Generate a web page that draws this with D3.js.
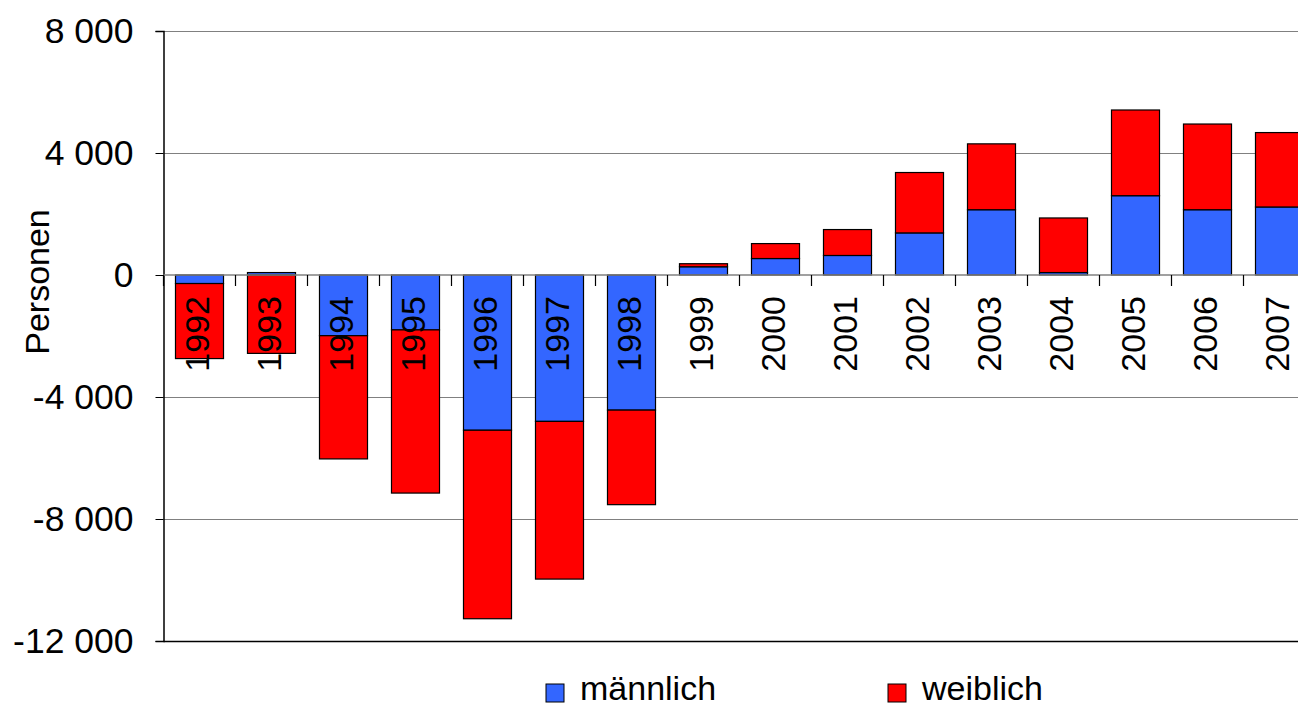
<!DOCTYPE html>
<html>
<head>
<meta charset="utf-8">
<script src="https://cdn.jsdelivr.net/npm/d3@7"></script>
<style>
  html, body { margin: 0; padding: 0; background: #fff; overflow: hidden; }
  svg { display: block; font-family: "Liberation Sans", Arial, sans-serif; }
</style>
</head>
<body>
<svg id="chart" width="1298" height="708"></svg>
<script>
const years = ["1992","1993","1994","1995","1996","1997","1998","1999","2000","2001","2002","2003","2004","2005","2006","2007"];
const maennlich = [-280, 80, -1990, -1800, -5090, -4800, -4430, 270, 540, 640, 1380, 2140, 80, 2600, 2140, 2230];
const weiblich  = [-2460, -2570, -4040, -5350, -6180, -5170, -3100, 100, 490, 850, 1980, 2160, 1790, 2810, 2810, 2440];
const yTicks = [8000, 4000, 0, -4000, -8000, -12000];
const seriesNames = ["männlich", "weiblich"];
const seriesColors = ["#3366FF", "#FF0000"];

(function () {
const svg = d3.select("#chart");
const plotLeft = 163.5, plotTop = 31, plotBottom = 641;
const step = 72;
const x = d3.scaleBand().domain(years).range([plotLeft, plotLeft + step * years.length]).paddingInner(0.333).paddingOuter(0.1665);
const y = d3.scaleLinear().domain([-12000, 8000]).range([plotBottom, plotTop]);

const table = years.map((yr, i) => ({ year: yr, "männlich": maennlich[i], "weiblich": weiblich[i] }));
const stacked = d3.stack().keys(seriesNames).offset(d3.stackOffsetDiverging)(table);

// gridlines
svg.append("g").selectAll("line").data(yTicks.filter(t => t !== 0)).join("line")
  .attr("x1", plotLeft).attr("x2", 1298)
  .attr("y1", d => Math.round(y(d)) + 0.5).attr("y2", d => Math.round(y(d)) + 0.5)
  .attr("stroke", d => d === -12000 ? "#000" : "#808080").attr("stroke-width", d => d === -12000 ? 1.5 : 1.2);

// y axis
const yAxis = d3.axisLeft(y).tickValues(yTicks).tickSize(8).tickPadding(22)
  .tickFormat(d => d3.format(",")(d).replace(/,/g, " ").replace("\u2212", "-"));
const gy = svg.append("g").attr("transform", `translate(${plotLeft},0)`).call(yAxis);
gy.select(".domain").attr("stroke", "#000").attr("stroke-width", 1.5);
gy.selectAll(".tick line").attr("stroke", "#000");
gy.selectAll(".tick text").attr("font-size", 35.5).attr("fill", "#000").attr("font-family", "Liberation Sans, Arial, sans-serif");

// bars
svg.append("g").selectAll("g").data(stacked).join("g")
  .attr("fill", (d, i) => seriesColors[i])
  .selectAll("rect").data(d => d).join("rect")
  .attr("x", d => x(d.data.year))
  .attr("width", x.bandwidth())
  .attr("y", d => y(Math.max(d[0], d[1])))
  .attr("height", d => Math.abs(y(d[0]) - y(d[1])))
  .attr("stroke", "#000").attr("stroke-width", 1.2);

// x axis (zero line + ticks between categories)
const y0 = y(0);
svg.append("line").attr("x1", plotLeft).attr("x2", 1298).attr("y1", y0).attr("y2", y0)
  .attr("stroke", "#808080").attr("stroke-width", 1.5);
const bounds = d3.range(years.length + 1).map(i => plotLeft + i * step);
svg.append("g").selectAll("line").data(bounds).join("line")
  .attr("x1", d => d).attr("x2", d => d).attr("y1", y0).attr("y2", y0 + 11)
  .attr("stroke", "#000").attr("stroke-width", 1.2);

// rotated year labels
svg.append("g").selectAll("text").data(years).join("text")
  .attr("transform", d => `translate(${x(d) + x.bandwidth() / 2 - 2},${y0 + 21}) rotate(-90)`)
  .attr("text-anchor", "end").attr("dy", "0.35em")
  .attr("font-size", 34).attr("fill", "#000")
  .text(d => d);

// y axis title
svg.append("text")
  .attr("transform", `translate(37,282) rotate(-90)`)
  .attr("text-anchor", "middle").attr("dy", "0.35em")
  .attr("font-size", 34).attr("fill", "#000")
  .text("Personen");

// legend
const legendX = [546, 888];
const lg = svg.append("g").selectAll("g").data(seriesNames).join("g")
  .attr("transform", (d, i) => `translate(${legendX[i]},684)`);
lg.append("rect").attr("width", 18).attr("height", 18)
  .attr("fill", (d, i) => seriesColors[i]).attr("stroke", "#000").attr("stroke-width", 1);
lg.append("text").attr("x", 34).attr("y", 16)
  .attr("font-size", 34).attr("fill", "#000").text(d => d);
})();
</script>
</body>
</html>
